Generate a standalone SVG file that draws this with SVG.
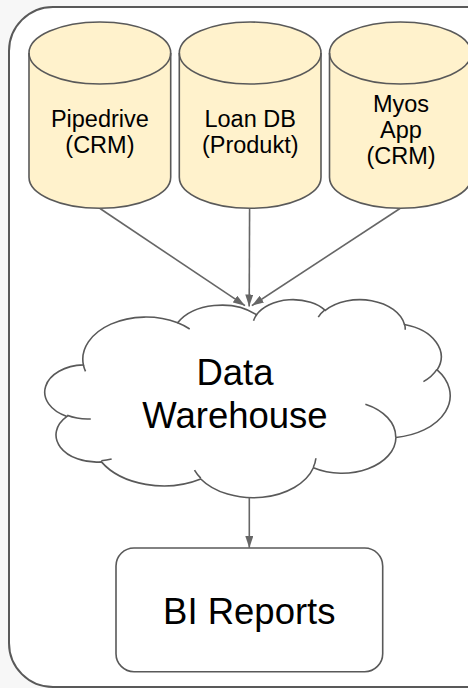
<svg xmlns="http://www.w3.org/2000/svg" width="468" height="688" viewBox="0 0 468 688">
  <defs>
    <style>
      .shape { stroke: #595959; stroke-width: 1.6; }
      .db { fill: #fff2cc; }
      .hook { fill: none; stroke: #595959; stroke-width: 1.6; }
      .conn { fill: none; stroke: #666666; stroke-width: 1.6; }
      .lbl { font-family: "Liberation Sans", Arial, sans-serif; fill: #000000; text-anchor: middle; }
      .small { font-size: 23.5px; }
      .big { font-size: 36.5px; }
    </style>
    <marker id="arrow" viewBox="0 0 12 8" refX="12" refY="4" markerWidth="12" markerHeight="8" markerUnits="userSpaceOnUse" orient="auto">
      <path d="M0,0 L12,4 L0,8 Z" fill="#666666"/>
    </marker>
  </defs>

  <rect x="0" y="0" width="468" height="688" fill="#f7f7f7"/>

  <g id="container">
    <rect x="9" y="7" width="520" height="680" rx="44" ry="44" fill="#ffffff" stroke="#595959" stroke-width="2"/>
  </g>

  <g id="pipedrive">
    <path class="shape db" d="M29,53 A70.85,31 0 0 1 170.7,53 L170.7,177.3 A70.85,31 0 0 1 29,177.3 Z"/>
    <path class="shape" fill="none" d="M29,53 A70.85,31 0 0 0 170.7,53"/>
    <text class="lbl small" x="99.9" y="126.7">Pipedrive</text>
    <text class="lbl small" x="99.9" y="153.3">(CRM)</text>
  </g>

  <g id="loandb">
    <path class="shape db" d="M179.3,53 A70.85,31 0 0 1 321,53 L321,177.3 A70.85,31 0 0 1 179.3,177.3 Z"/>
    <path class="shape" fill="none" d="M179.3,53 A70.85,31 0 0 0 321,53"/>
    <text class="lbl small" x="250.2" y="126.7">Loan DB</text>
    <text class="lbl small" x="250.2" y="153.3">(Produkt)</text>
  </g>

  <g id="myos">
    <path class="shape db" d="M329.5,53 A70.85,31 0 0 1 471.2,53 L471.2,177.3 A70.85,31 0 0 1 329.5,177.3 Z"/>
    <path class="shape" fill="none" d="M329.5,53 A70.85,31 0 0 0 471.2,53"/>
    <text class="lbl small" x="401" y="111.7">Myos</text>
    <text class="lbl small" x="401" y="137.8">App</text>
    <text class="lbl small" x="401" y="163.8">(CRM)</text>
  </g>

  <g id="warehouse">
    <path class="shape" fill="#ffffff" d="M83.38,364.86 A63.00,42.12 0 0 1 177.66,322.85 A49.75,33.31 0 0 1 256.49,314.73 A40.72,27.25 0 0 1 325.31,310.37 A45.31,30.23 0 0 1 404.46,324.56 A49.75,33.33 0 0 1 437.12,369.86 A63.20,42.26 0 0 1 395.94,437.43 A53.97,36.06 0 0 1 313.40,467.73 A62.99,42.23 0 0 1 200.75,478.96 A72.02,48.32 0 0 1 101.43,461.89 A40.67,27.12 0 0 1 67.00,416.41 A40.53,27.25 0 0 1 83.38,364.86 Z"/>
    <path class="hook" d="M90.78,418.98 A40.53,27.25 0 0 1 67.15,415.32 M111.63,458.95 A40.67,27.12 0 0 1 101.29,460.70 M200.72,478.16 A62.99,42.23 0 0 1 194.49,470.19 M315.92,458.27 A62.99,42.23 0 0 1 313.43,467.02 M365.38,404.21 A53.97,36.06 0 0 1 395.71,436.91 M436.92,369.37 A49.75,33.33 0 0 1 423.42,381.63 M404.51,323.87 A45.31,30.23 0 0 1 405.22,329.66 M318.26,317.11 A45.31,30.23 0 0 1 325.18,309.73 M253.55,320.63 A40.72,27.25 0 0 1 256.90,314.26 M177.60,322.80 A63.00,42.12 0 0 1 189.72,328.97 M85.50,371.37 A63.00,42.12 0 0 1 83.38,364.86"/>
    <text class="lbl big" x="235" y="385">Data</text>
    <text class="lbl big" x="235" y="428.3">Warehouse</text>
  </g>

  <g id="bireports">
    <rect class="shape" x="116" y="548" width="266.7" height="123.7" rx="18" ry="18" fill="#ffffff"/>
    <text class="lbl big" x="249.3" y="624">BI Reports</text>
  </g>

  <g id="connectors">
    <line class="conn" x1="100" y1="208.5" x2="245" y2="305.7" marker-end="url(#arrow)"/>
    <line class="conn" x1="249.6" y1="208.5" x2="249.2" y2="306.5" marker-end="url(#arrow)"/>
    <line class="conn" x1="400" y1="208.5" x2="251.8" y2="305.7" marker-end="url(#arrow)"/>
    <line class="conn" x1="249.3" y1="497.5" x2="249.3" y2="548" marker-end="url(#arrow)"/>
  </g>
</svg>
